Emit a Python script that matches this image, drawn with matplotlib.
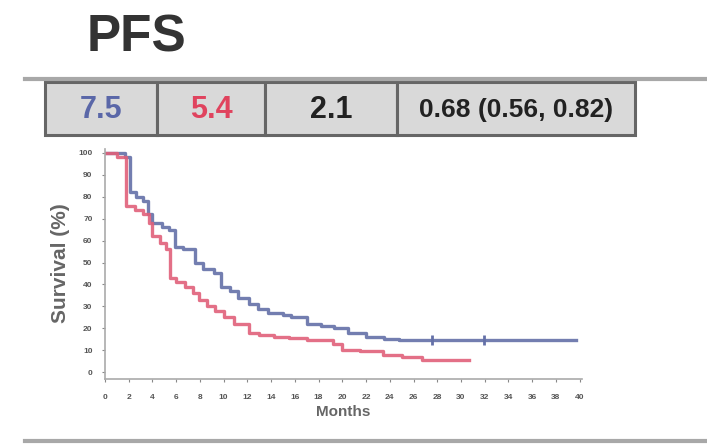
import matplotlib
matplotlib.use("Agg")
import matplotlib.pyplot as plt
from matplotlib.patches import Rectangle
from matplotlib.lines import Line2D

# ---- data ----
title = "PFS"
table_values = ["7.5", "5.4", "2.1", "0.68 (0.56, 0.82)"]
table_colors = ["#5a67a8", "#e0435e", "#222222", "#222222"]

blue_t = [0, 1.7, 2.1, 2.6, 3.2, 3.6, 4.0, 4.8, 5.4, 5.9, 6.6, 7.1, 7.6, 8.3, 9.2, 9.8,
          10.5, 11.2, 12.1, 12.9, 13.7, 15.0, 15.7, 17.0, 18.2, 19.3, 20.5, 22.0, 23.5, 24.8, 39.7]
blue_s = [100, 98, 82, 80, 78, 72, 68, 66, 65, 57, 56, 56, 50, 47, 45, 39,
          37, 34, 31, 29, 27, 26, 25, 22, 21, 20, 18, 16, 15, 14.6, 14.6]
blue_cens_t = [27.6, 31.9]
blue_cens_s = [14.6, 14.6]

red_t = [0, 1.0, 1.8, 2.5, 3.2, 3.7, 4.0, 4.6, 5.1, 5.5, 6.0, 6.75, 7.4, 7.9, 8.6, 9.25,
         10.0, 10.9, 12.1, 13.0, 14.25, 15.5, 17.0, 19.25, 20.0, 21.5, 23.4, 25.0, 26.7, 30.7]
red_s = [100, 98, 76, 74, 72, 68, 62, 59, 56, 43, 41, 39, 36, 33, 30, 28,
         25, 22, 18, 17, 16, 15.5, 14.6, 13, 10, 9.5, 8, 7, 5.5, 5.5]

x_ticks = list(range(0, 41, 2))
y_ticks = list(range(0, 101, 10))

W, H = 707, 447
fig = plt.figure(figsize=(W / 100, H / 100), dpi=100)

def fx(px):
    return px / W

def fy(py):
    return 1 - py / H

# title
fig.text(fx(87), fy(38), title, fontsize=37, fontweight="bold", color="#333333",
         ha="left", va="center", family="Liberation Sans")

# horizontal gray rules
fig.add_artist(Line2D([fx(25), fx(707)], [fy(79), fy(79)], color="#a8a8a8", lw=3))
fig.add_artist(Line2D([fx(25), fx(707)], [fy(441), fy(441)], color="#a8a8a8", lw=3))

# table
col_edges = [45, 157, 265, 397, 635]
top, bot = 82, 135
for i, (val, col) in enumerate(zip(table_values, table_colors)):
    x0, x1 = col_edges[i], col_edges[i + 1]
    fig.add_artist(Rectangle((fx(x0), fy(bot)), fx(x1) - fx(x0), fy(top) - fy(bot),
                             facecolor="#d9d9d9", edgecolor="#666666", lw=2.2))
    fig.text(fx((x0 + x1) / 2), fy((top + bot) / 2 + 1), val, color=col,
             fontsize=22 if i < 3 else 19, fontweight="bold", ha="center", va="center",
             family="Liberation Sans")

# KM plot axes
ax = fig.add_axes([fx(105), fy(378.6), fx(582) - fx(105), fy(148.6) - fy(378.6)])
ax.step(blue_t, blue_s, where="post", color="#6470a8", lw=2.4, alpha=0.9)
ax.step(red_t, red_s, where="post", color="#e0607a", lw=2.4, alpha=0.9)
ax.plot(blue_cens_t, blue_cens_s, ls="none", marker="|", ms=7, mew=2, color="#6470a8")

ax.set_xlim(0, 40.2)
ax.set_ylim(-3, 102)
ax.set_xticks(x_ticks)
ax.set_yticks(y_ticks)
ax.tick_params(labelsize=6, colors="#888888", length=2, width=0.8)
ax.tick_params(axis="x", pad=9)
ax.tick_params(axis="y", pad=7)
for lab in ax.get_xticklabels() + ax.get_yticklabels():
    lab.set_fontweight("bold")
    lab.set_color("#555555")
    lab.set_family("Liberation Sans")
for s in ["top", "right"]:
    ax.spines[s].set_visible(False)
for s in ["left", "bottom"]:
    ax.spines[s].set_color("#aaaaaa")
    ax.spines[s].set_linewidth(1.2)
ax.set_ylabel("Survival (%)", fontsize=15, fontweight="bold", color="#666666",
              labelpad=6, family="Liberation Sans")
ax.set_xlabel("Months", fontsize=11, fontweight="bold", color="#666666",
              labelpad=3, family="Liberation Sans")

fig.savefig("out.png", dpi=100)
